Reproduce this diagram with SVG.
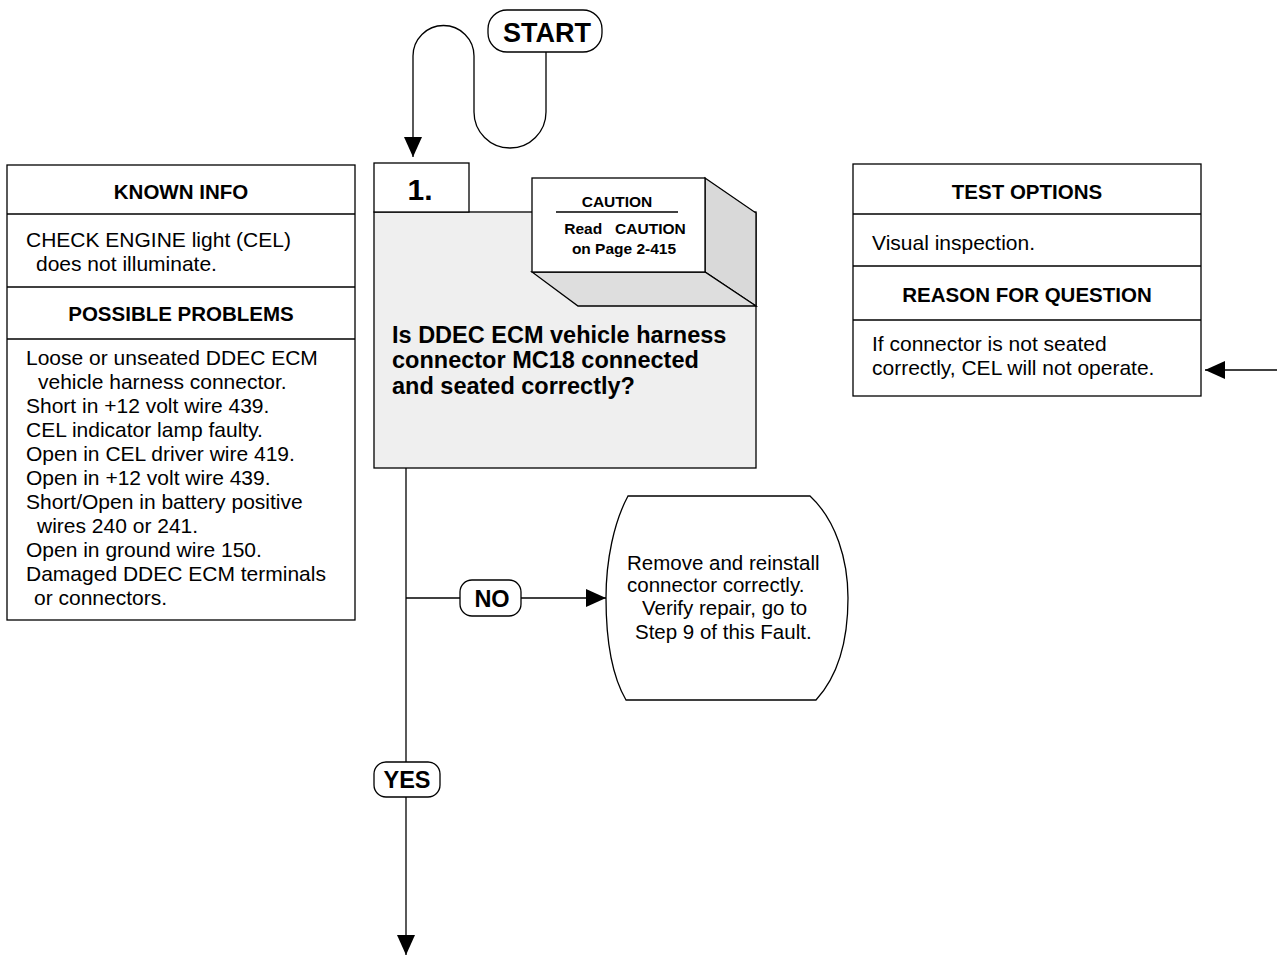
<svg xmlns="http://www.w3.org/2000/svg" width="1277" height="956" viewBox="0 0 1277 956">
  <style>
    .box { fill: #ffffff; stroke: #000; stroke-width: 1.3; }
    .line { fill: none; stroke: #000; stroke-width: 1.3; }
    .t { font-family: "Liberation Sans", Arial, sans-serif; fill: #000; }
    .b { font-weight: bold; }
    .h { font-size: 20.5px; font-weight: bold; text-anchor: middle; }
    .p { font-size: 21px; }
    .q { font-size: 23.5px; font-weight: bold; }
    .c { font-size: 15.5px; font-weight: bold; text-anchor: middle; }
    .r { font-size: 20.5px; }
    .pill { font-size: 23.5px; font-weight: bold; text-anchor: middle; }
  </style>
  <defs>
    <marker id="arrow" markerUnits="userSpaceOnUse" markerWidth="20" markerHeight="20" viewBox="0 0 20 20" refX="20" refY="10" orient="auto">
      <path d="M0,1 L20,10 L0,19 Z" fill="#000"/>
    </marker>
  </defs>

  <!-- connectors -->
  <g id="connectors">
    <path class="line" d="M546,52 L546,112 A36,36 0 0 1 474,112 L474,56 A30.5,30.5 0 0 0 413,56 L413,157" marker-end="url(#arrow)"/>
    <path class="line" d="M406,468 L406,955" marker-end="url(#arrow)"/>
    <path class="line" d="M406,598 L460,598"/>
    <path class="line" d="M521,598 L606,598" marker-end="url(#arrow)"/>
    <path class="line" d="M1277,370 L1205,370" marker-end="url(#arrow)"/>
  </g>

  <!-- start terminal -->
  <g id="start">
    <rect class="box" x="488" y="10" width="114" height="42" rx="19"/>
    <text class="t b" x="547" y="42" font-size="27" text-anchor="middle">START</text>
  </g>

  <!-- known info / possible problems -->
  <g id="known-info">
    <rect class="box" x="7" y="165" width="348" height="455"/>
    <line class="line" x1="7" y1="214" x2="355" y2="214"/>
    <line class="line" x1="7" y1="287" x2="355" y2="287"/>
    <line class="line" x1="7" y1="339" x2="355" y2="339"/>
    <text class="t h" x="181" y="199">KNOWN INFO</text>
    <text class="t p" x="26" y="247">CHECK ENGINE light (CEL)</text>
    <text class="t p" x="36" y="271">does not illuminate.</text>
    <text class="t h" x="181" y="321">POSSIBLE PROBLEMS</text>
    <text class="t p" x="26" y="365">Loose or unseated DDEC ECM</text>
    <text class="t p" x="38" y="389">vehicle harness connector.</text>
    <text class="t p" x="26" y="413">Short in +12 volt wire 439.</text>
    <text class="t p" x="26" y="437">CEL indicator lamp faulty.</text>
    <text class="t p" x="26" y="461">Open in CEL driver wire 419.</text>
    <text class="t p" x="26" y="485">Open in +12 volt wire 439.</text>
    <text class="t p" x="26" y="509">Short/Open in battery positive</text>
    <text class="t p" x="37" y="533">wires 240 or 241.</text>
    <text class="t p" x="26" y="557">Open in ground wire 150.</text>
    <text class="t p" x="26" y="581">Damaged DDEC ECM terminals</text>
    <text class="t p" x="34" y="605">or connectors.</text>
  </g>

  <!-- step 1 question -->
  <g id="step1">
    <rect class="box" x="374" y="212" width="382" height="256" style="fill:#efefef"/>
    <rect class="box" x="374" y="163" width="95" height="49"/>
    <text class="t b" x="420" y="200" font-size="30" text-anchor="middle">1.</text>
    <text class="t q" x="392" y="343">Is DDEC ECM vehicle harness</text>
    <text class="t q" x="392" y="368">connector MC18 connected</text>
    <text class="t q" x="392" y="394">and seated correctly?</text>
  </g>

  <!-- caution block -->
  <g id="caution">
    <path d="M705,178 L756,213 L756,306 L705,272 Z" fill="#d9d9d9" stroke="#000" stroke-width="1.3"/>
    <path d="M532,272 L705,272 L756,306 L578,306 Z" fill="#dedede" stroke="#000" stroke-width="1.3"/>
    <rect class="box" x="532" y="178" width="173" height="94"/>
    <text class="t c" x="617" y="207">CAUTION</text>
    <line class="line" x1="556" y1="212" x2="678" y2="212" stroke-width="1.6"/>
    <text class="t c" x="625" y="234" xml:space="preserve">Read   CAUTION</text>
    <text class="t c" x="624" y="254">on Page 2-415</text>
  </g>

  <!-- test options / reason -->
  <g id="test-options">
    <rect class="box" x="853" y="164" width="348" height="232"/>
    <line class="line" x1="853" y1="214" x2="1201" y2="214"/>
    <line class="line" x1="853" y1="266" x2="1201" y2="266"/>
    <line class="line" x1="853" y1="320" x2="1201" y2="320"/>
    <text class="t h" x="1027" y="199">TEST OPTIONS</text>
    <text class="t p" x="872" y="250">Visual inspection.</text>
    <text class="t h" x="1027" y="302">REASON FOR QUESTION</text>
    <text class="t p" x="872" y="351">If connector is not seated</text>
    <text class="t p" x="872" y="375">correctly, CEL will not operate.</text>
  </g>

  <!-- NO branch -->
  <g id="no-label">
    <rect class="box" x="460" y="580" width="61" height="36" rx="12"/>
    <text class="t pill" x="492" y="607">NO</text>
  </g>

  <g id="repair">
    <path class="box" d="M628,496 L810,496 C836,520 848,560 848,598 C848,640 838,676 816,700 L626,700 C612,676 606,640 606,598 C606,560 614,522 628,496 Z"/>
    <text class="t r" x="627" y="570">Remove and reinstall</text>
    <text class="t r" x="627" y="592">connector correctly.</text>
    <text class="t r" x="642" y="615">Verify repair, go to</text>
    <text class="t r" x="635" y="639">Step 9 of this Fault.</text>
  </g>

  <!-- YES branch -->
  <g id="yes-label">
    <rect class="box" x="374" y="762" width="66" height="35" rx="12"/>
    <text class="t pill" x="407" y="788">YES</text>
  </g>
</svg>
